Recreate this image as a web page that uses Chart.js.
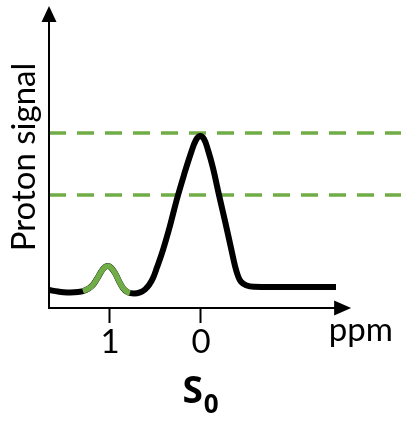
<!DOCTYPE html>
<html><head><meta charset="utf-8">
<script src="https://cdn.jsdelivr.net/npm/chart.js@4/dist/chart.umd.min.js"></script>
<style>html,body{margin:0;padding:0;background:#fff}</style>
</head><body>
<canvas id="c" width="401" height="424"></canvas>
<script>
// Spectrum trace (chemical shift in ppm, relative proton signal)
const spectrumPpm = [1.670,1.571,1.473,1.352,1.264,1.198,1.143,1.099,1.055,1.022,0.989,0.945,0.901,0.857,0.802,0.736,0.670,0.615,0.571,0.527,0.484,0.418,0.341,0.264,0.187,0.110,0.055,0.011,-0.033,-0.077,-0.132,-0.198,-0.264,-0.330,-0.374,-0.407,-0.440,-0.495,-0.582,-0.978,-1.484];
const spectrumSignal = [0.103,0.094,0.089,0.091,0.103,0.126,0.166,0.206,0.234,0.240,0.231,0.200,0.154,0.114,0.089,0.083,0.089,0.106,0.131,0.171,0.231,0.331,0.469,0.623,0.760,0.886,0.960,0.983,0.966,0.903,0.800,0.646,0.497,0.343,0.240,0.183,0.150,0.130,0.121,0.120,0.120];
// Highlighted small peak
const smallPeakPpm = [1.297,1.264,1.198,1.143,1.099,1.055,1.022,0.989,0.945,0.901,0.857,0.802,0.780];
const smallPeakSignal = [0.097,0.103,0.126,0.166,0.206,0.234,0.240,0.231,0.200,0.154,0.114,0.089,0.086];
// Dashed reference levels
const refLevels = [1.0, 0.646];
const refRange = [1.67, -2.2];
// Axes
const tickValues = [1, 0];
const xRange = [-2.198, 1.670];
const yRange = [0, 1.726];
const xArrowTip = -1.65;
const xUnit = 'ppm';
const yTitle = 'Proton signal';
const captionMain = 'S';
const captionSub = '0';

const GREEN = '#70AD47';
const toPts = (xs, ys) => xs.map((x, i) => ({x, y: ys[i]}));

const refSets = refLevels.map(v => ({
  data: toPts(refRange, [v, v]),
  borderColor: GREEN, borderWidth: 3.5, borderDash: [17, 11],
  pointRadius: 0, tension: 0
}));

const decor = {
  id: 'decor',
  afterDraw(chart) {
    const {ctx, chartArea: a, scales: {x, y}} = chart;
    const x0 = a.left, y0 = y.getPixelForValue(0);
    const tipX = x.getPixelForValue(xArrowTip), tipY = y.getPixelForValue(yRange[1]);
    ctx.save();
    ctx.strokeStyle = '#000'; ctx.fillStyle = '#000'; ctx.lineWidth = 2;
    ctx.beginPath();
    ctx.moveTo(x0, y0); ctx.lineTo(x0, tipY + 14);
    ctx.moveTo(x0 - 1, y0); ctx.lineTo(tipX - 14, y0);
    ctx.stroke();
    ctx.beginPath();
    ctx.moveTo(x0, tipY); ctx.lineTo(x0 - 7.5, tipY + 16); ctx.lineTo(x0 + 7.5, tipY + 16); ctx.closePath(); ctx.fill();
    ctx.beginPath();
    ctx.moveTo(tipX, y0); ctx.lineTo(tipX - 17, y0 - 7.5); ctx.lineTo(tipX - 17, y0 + 7.5); ctx.closePath(); ctx.fill();
    // unit label
    ctx.font = '33px Lato';
    ctx.textAlign = 'right'; ctx.textBaseline = 'alphabetic';
    ctx.fillText(xUnit, chart.width - 8, y0 + 33);
    // caption
    const fMain = '700 37px "Open Sans"', fSub = '700 26px "Open Sans"';
    ctx.font = fMain;
    const wS = ctx.measureText(captionMain).width;
    ctx.font = fSub;
    const w0 = ctx.measureText(captionSub).width;
    const gap = 1;
    const start = chart.width / 2 - (wS + gap + w0) / 2;
    ctx.textAlign = 'left';
    ctx.font = fMain;
    ctx.fillText(captionMain, start, y0 + 95);
    ctx.font = fSub;
    ctx.fillText(captionSub, start + wS + gap, y0 + 105);
    ctx.restore();
  }
};

new Chart(document.getElementById('c'), {
  type: 'line',
  data: {
    datasets: [
      { data: toPts(smallPeakPpm, smallPeakSignal), borderColor: GREEN, borderWidth: 5.5,
        pointRadius: 0, tension: 0.4, borderCapStyle: 'butt' },
      { data: toPts(spectrumPpm, spectrumSignal), borderColor: '#000', borderWidth: 6,
        pointRadius: 0, tension: 0.4, borderJoinStyle: 'round' },
      ...refSets
    ]
  },
  options: {
    responsive: false, animation: false, devicePixelRatio: 1,
    layout: { padding: { top: 6, left: 0, right: 0, bottom: 0 } },
    plugins: { legend: { display: false }, tooltip: { enabled: false } },
    scales: {
      x: {
        type: 'linear', reverse: true, min: xRange[0], max: xRange[1],
        afterBuildTicks: s => { s.ticks = tickValues.map(v => ({ value: v })); },
        afterFit: s => { s.height = 116; },
        ticks: { color: '#000', font: { family: 'Lato', size: 33 }, padding: 0, maxRotation: 0,
                 callback: v => String(v) },
        grid: { drawOnChartArea: false, drawTicks: true, tickLength: 15, tickWidth: 2, tickColor: '#000' },
        border: { display: false }
      },
      y: {
        type: 'linear', min: yRange[0], max: yRange[1],
        afterFit: s => { s.width = 49; },
        ticks: { display: false },
        grid: { display: false },
        border: { display: false },
        title: { display: true, text: yTitle, color: '#000', font: { family: 'Lato', size: 33 }, padding: { top: 5, bottom: 0 } }
      }
    }
  },
  plugins: [decor]
});
</script>
</body></html>
